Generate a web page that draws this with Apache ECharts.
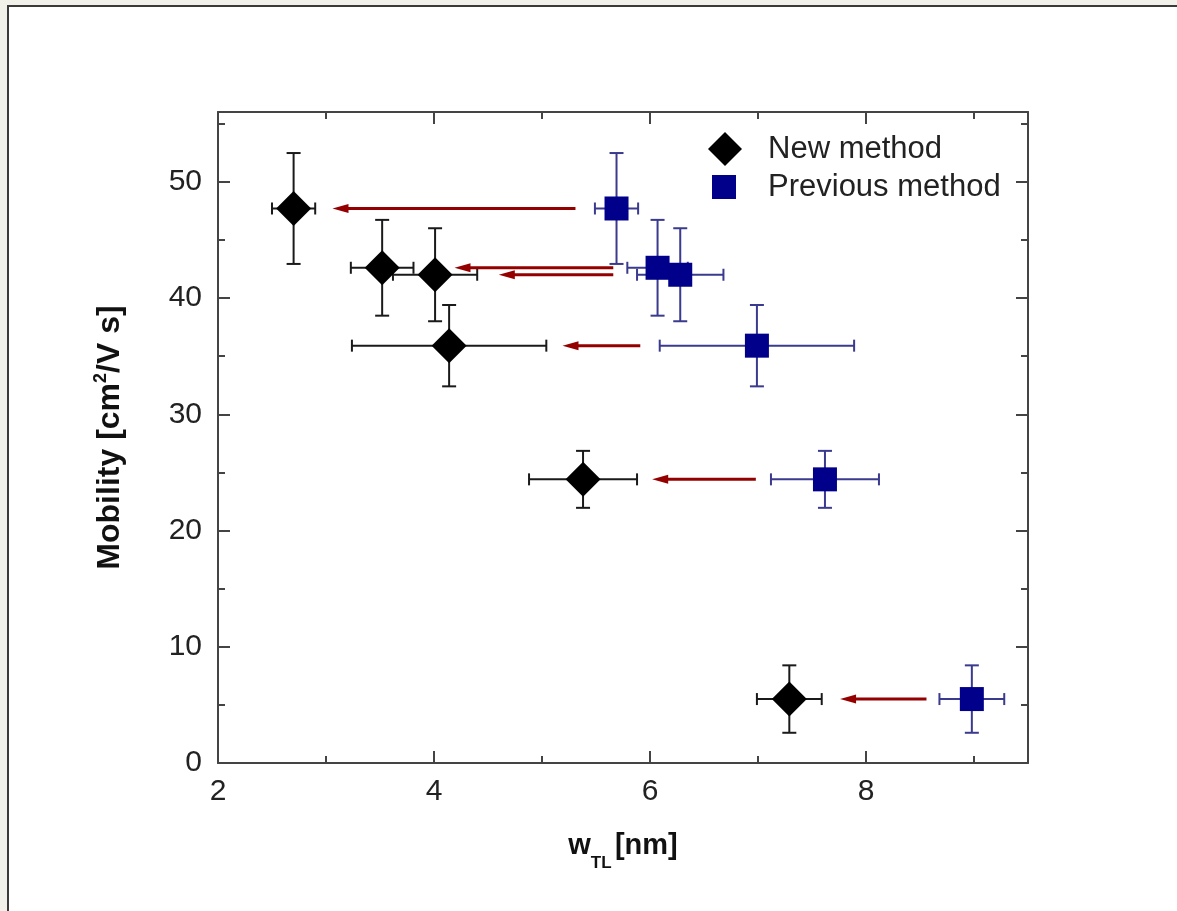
<!DOCTYPE html>
<html>
<head>
<meta charset="utf-8">
<title>Mobility vs w_TL</title>
<script src="https://cdn.jsdelivr.net/npm/echarts@6/dist/echarts.min.js"></script>
<style>
  html, body { margin: 0; padding: 0; background: #f2f1e9; overflow: hidden; }
  #frame { position: absolute; left: 7px; top: 5px; width: 1200px; height: 950px;
           border: 2px solid #3a3a3a; background: #fff; }
  #chart { position: absolute; left: 0; top: 0; width: 1177px; height: 911px; }
</style>
</head>
<body>
<div id="frame"></div>
<div id="chart"></div>
<script>
// mobility values shared by both methods (one row per sample)
const mobility    = [47.7, 42.6, 42.0, 35.9, 24.4, 5.5];
const mobilityErr = [4.77, 4.12, 4.0, 3.5, 2.45, 2.9];

// w_TL from the new method
const newW    = [2.70, 3.52, 4.01, 4.14, 5.38, 7.29];
const newWErr = [0.20, 0.29, 0.39, 0.90, 0.50, 0.30];

// w_TL from the previous method
const prevW    = [5.69, 6.07, 6.28, 6.99, 7.62, 8.98];
const prevWErr = [0.20, 0.28, 0.40, 0.90, 0.50, 0.30];

// red arrows (start -> tip, in nm)
const arrowFrom = [5.31, 5.66, 5.66, 5.91, 6.98, 8.56];
const arrowTo   = [3.06, 4.19, 4.60, 5.19, 6.02, 7.76];

const FONT = '"Liberation Sans", Arial, sans-serif';
const AXIS_COLOR = '#444';

let myChart = echarts.init(document.getElementById('chart'));

function errorBars(color) {
  return function (params, api) {
    let x = api.value(0), y = api.value(1), xe = api.value(2), ye = api.value(3);
    let l = api.coord([x - xe, y]), r = api.coord([x + xe, y]);
    let t = api.coord([x, y + ye]), b = api.coord([x, y - ye]);
    let style = { stroke: color, lineWidth: 2 };
    let cap = 7, capH = 6;
    return {
      type: 'group',
      children: [
        { type: 'line', shape: { x1: l[0], y1: l[1], x2: r[0], y2: r[1] }, style: style },
        { type: 'line', shape: { x1: t[0], y1: t[1], x2: b[0], y2: b[1] }, style: style },
        { type: 'line', shape: { x1: l[0], y1: l[1] - capH, x2: l[0], y2: l[1] + capH }, style: style },
        { type: 'line', shape: { x1: r[0], y1: r[1] - capH, x2: r[0], y2: r[1] + capH }, style: style },
        { type: 'line', shape: { x1: t[0] - cap, y1: t[1], x2: t[0] + cap, y2: t[1] }, style: style },
        { type: 'line', shape: { x1: b[0] - cap, y1: b[1], x2: b[0] + cap, y2: b[1] }, style: style }
      ]
    };
  };
}

function arrowItem(params, api) {
  let y = api.value(2);
  let s = api.coord([api.value(0), y]);
  let e = api.coord([api.value(1), y]);
  let head = 16, hw = 4.5;
  let color = '#940000';
  return {
    type: 'group',
    children: [
      { type: 'line', shape: { x1: s[0], y1: s[1], x2: e[0] + head - 2, y2: e[1] },
        style: { stroke: color, lineWidth: 3 } },
      { type: 'polygon', shape: { points: [[e[0], e[1]], [e[0] + head, e[1] - hw], [e[0] + head, e[1] + hw]] },
        style: { fill: color } }
    ]
  };
}

function xAxisDef(pos, interval, tickLen, main) {
  let ax = {
    type: 'value', position: pos, min: 2, max: 9.5, interval: interval,
    axisLine: { show: main, onZero: false, lineStyle: { color: AXIS_COLOR, width: 2 } },
    axisTick: { show: true, inside: true, length: tickLen, lineStyle: { color: AXIS_COLOR, width: 2 } },
    axisLabel: { show: false },
    splitLine: { show: false }
  };
  if (pos === 'bottom' && main) {
    ax.axisLabel = {
      show: true, fontSize: 30, color: '#222', fontFamily: FONT, margin: 14,
      showMaxLabel: false,
      formatter: v => (v % 2 === 0 ? String(v) : '')
    };
    ax.name = '{w|w}{sub|TL} {w|[nm]}';
    ax.nameLocation = 'middle';
    ax.nameGap = 57;
    ax.nameTextStyle = {
      fontFamily: FONT, fontWeight: 'bold', color: '#111',
      rich: {
        w: { fontSize: 29, fontWeight: 'bold', fontFamily: FONT, color: '#111', lineHeight: 34 },
        sub: { fontSize: 17, fontWeight: 'bold', fontFamily: FONT, color: '#111', lineHeight: 52, verticalAlign: 'bottom' }
      }
    };
  }
  return ax;
}

function yAxisDef(pos, interval, tickLen, main) {
  let ax = {
    type: 'value', position: pos, min: 0, max: 56, interval: interval,
    axisLine: { show: main, onZero: false, lineStyle: { color: AXIS_COLOR, width: 2 } },
    axisTick: { show: true, inside: true, length: tickLen, lineStyle: { color: AXIS_COLOR, width: 2 } },
    axisLabel: { show: false },
    splitLine: { show: false }
  };
  if (pos === 'left' && main) {
    ax.axisLabel = {
      show: true, fontSize: 30, color: '#222', fontFamily: FONT, margin: 16,
      showMaxLabel: false,
      formatter: v => (v % 10 === 0 ? String(v) : '')
    };
    ax.name = 'Mobility [cm{sup|2}/V s]';
    ax.nameLocation = 'middle';
    ax.nameGap = 90;
    ax.nameTextStyle = {
      fontFamily: FONT, fontWeight: 'bold', fontSize: 32, color: '#111', lineHeight: 36,
      rich: {
        sup: { fontSize: 18, fontWeight: 'bold', fontFamily: FONT, color: '#111', lineHeight: 36, verticalAlign: 'top' }
      }
    };
  }
  return ax;
}

function legendDef(name, left, top, size, pad) {
  return {
    data: [name], left: left, top: top, padding: 0,
    itemWidth: size, itemHeight: size, selectedMode: false,
    formatter: '{t|{name}}',
    textStyle: {
      fontSize: 31, color: '#222', fontFamily: FONT, lineHeight: 34,
      rich: { t: { fontSize: 31, color: '#222', fontFamily: FONT, lineHeight: 34, padding: [0, 0, 0, pad] } }
    }
  };
}

let option = {
  animation: false,
  backgroundColor: 'transparent',
  grid: { left: 218, right: 149, top: 112, bottom: 148, containLabel: false },
  legend: [
    legendDef('New method', 708, 132, 34, 21),
    legendDef('Previous method', 712, 170, 24, 27)
  ],
  xAxis: [
    xAxisDef('bottom', 2, 12, true),
    xAxisDef('bottom', 1, 7, false),
    xAxisDef('top', 2, 12, true),
    xAxisDef('top', 1, 7, false)
  ],
  yAxis: [
    yAxisDef('left', 10, 12, true),
    yAxisDef('left', 5, 7, false),
    yAxisDef('right', 10, 12, true),
    yAxisDef('right', 5, 7, false)
  ],
  series: [
    {
      type: 'custom', name: 'newErr', z: 2, silent: true,
      renderItem: errorBars('#1a1a1a'),
      encode: { x: 0, y: 1 },
      data: newW.map((w, i) => [w, mobility[i], newWErr[i], mobilityErr[i]])
    },
    {
      type: 'custom', name: 'prevErr', z: 2, silent: true,
      renderItem: errorBars('#3a3a8e'),
      encode: { x: 0, y: 1 },
      data: prevW.map((w, i) => [w, mobility[i], prevWErr[i], mobilityErr[i]])
    },
    {
      type: 'scatter', name: 'New method', z: 3,
      symbol: 'diamond', symbolSize: 35,
      itemStyle: { color: '#000', opacity: 1 },
      data: newW.map((w, i) => [w, mobility[i]])
    },
    {
      type: 'scatter', name: 'Previous method', z: 3,
      symbol: 'rect', symbolSize: 24,
      itemStyle: { color: '#00008a', opacity: 1 },
      data: prevW.map((w, i) => [w, mobility[i]])
    },
    {
      type: 'custom', name: 'arrows', z: 4, silent: true,
      renderItem: arrowItem,
      encode: { x: [0, 1], y: 2 },
      data: arrowFrom.map((a, i) => [a, arrowTo[i], mobility[i]])
    }
  ]
};

myChart.setOption(option);
</script>
</body>
</html>
